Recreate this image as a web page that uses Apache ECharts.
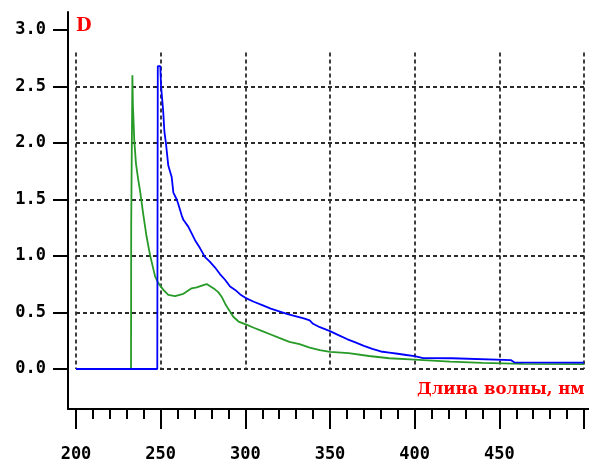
<!DOCTYPE html>
<html>
<head>
<meta charset="utf-8">
<script src="https://cdn.jsdelivr.net/npm/echarts@6/dist/echarts.min.js"></script>
<style>
  html, body { margin: 0; padding: 0; background: #ffffff; }
  #chart { width: 589px; height: 462px; }
</style>
</head>
<body>
<div id="chart"></div>
<script>
// Absorption spectra: optical density D versus wavelength (nm)
const blueNm = [200, 248.0, 248.3, 249.8, 250.2, 251.5, 252.2, 253.1, 254.5, 256.5, 257.5, 259.5, 260.4, 262.4, 263.4, 266.3, 268.3, 270.3, 273.2, 276.2, 279, 282, 285, 288, 291, 294, 297, 300, 305, 310, 315, 320, 325, 330, 335, 338, 340, 344, 350, 355, 360, 365, 370, 375, 380, 385, 390, 395, 400, 405, 422, 423, 457, 459, 500];
const blueD  = [0, 0, 2.68, 2.68, 2.51, 2.28, 2.10, 2.00, 1.80, 1.70, 1.56, 1.50, 1.46, 1.36, 1.32, 1.26, 1.20, 1.14, 1.07, 0.99, 0.95, 0.90, 0.84, 0.79, 0.73, 0.70, 0.66, 0.63, 0.595, 0.565, 0.535, 0.51, 0.485, 0.465, 0.445, 0.43, 0.40, 0.37, 0.335, 0.30, 0.265, 0.235, 0.205, 0.178, 0.155, 0.145, 0.135, 0.124, 0.113, 0.097, 0.095, 0.08, 0.078, 0.058, 0.056];

const greenNm = [200, 232.5, 232.6, 233.1, 233.3, 233.6, 234.4, 235.4, 236.8, 237.8, 239.7, 241.7, 243.7, 246.7, 248.6, 251.6, 254.5, 258.5, 263.4, 268.3, 271.3, 275.2, 277.2, 279, 282, 284, 286, 288, 290, 293, 296, 301, 305, 310, 315, 320, 326, 332, 338, 344, 350, 361, 373, 385, 400, 421, 440, 464, 500];
const greenD  = [0, 0, 1.29, 1.29, 2.60, 2.34, 2.03, 1.82, 1.67, 1.58, 1.37, 1.17, 1.01, 0.82, 0.76, 0.70, 0.655, 0.645, 0.665, 0.714, 0.723, 0.743, 0.752, 0.735, 0.705, 0.68, 0.64, 0.58, 0.53, 0.46, 0.42, 0.39, 0.365, 0.335, 0.305, 0.275, 0.24, 0.22, 0.19, 0.168, 0.152, 0.14, 0.115, 0.095, 0.083, 0.066, 0.055, 0.045, 0.044];

const xMajorTicks = [200, 250, 300, 350, 400, 450, 500];
const xTickLabels = [200, 250, 300, 350, 400, 450];
const xMinorTicks = [];
for (let v = 210; v < 500; v += 10) { if (v % 50 !== 0) xMinorTicks.push(v); }
const yTicks = [0, 0.5, 1.0, 1.5, 2.0, 2.5, 3.0];

const xTitle = 'Длина волны, нм';
const yTitle = 'D';

// Plot frame (pixels)
const W = 589, H = 462;
const plotLeft = 76, plotRight = 584;      // 200 nm .. 500 nm
const zeroY = 369, pxPerUnit = 113;        // D = 0 baseline, pixels per 1.0 D
const axisX = 68, axisY = 409;             // framing axis lines
const axisTop = 12;
const pxPerNm = (plotRight - plotLeft) / 300;
const gridTopD = 2.8;                      // dashed grid stops here

// Extent of the framing axes, in data units
const frameXMin = 200 - (plotLeft - axisX) / pxPerNm;
const frameXMax = 500 + (W - plotRight) / pxPerNm;
const frameYMin = -(axisY - zeroY) / pxPerUnit;
const frameYMax = (zeroY - axisTop) / pxPerUnit;

const pairs = (xs, ys) => xs.map((x, i) => [x, ys[i]]);

const labelFont = { fontFamily: 'DejaVu Sans Mono', fontWeight: 'bold', fontSize: 17, color: '#000' };
const dashed = { color: '#2a2a2a', width: 1.8, type: [4, 3] };

const chart = echarts.init(document.getElementById('chart'), null, { renderer: 'canvas' });
chart.setOption({
  animation: false,
  backgroundColor: '#ffffff',
  title: [
    { text: yTitle, left: 76, top: 17, padding: 0,
      textStyle: { color: '#ff0000', fontFamily: 'DejaVu Serif', fontWeight: 'bold', fontSize: 18 } },
    { text: xTitle, left: 417, top: 381, padding: 0,
      textStyle: { color: '#ff0000', fontFamily: 'DejaVu Serif', fontWeight: 'bold', fontSize: 16.5 } }
  ],
  grid: [
    { left: plotLeft, right: W - plotRight, top: zeroY - gridTopD * pxPerUnit, bottom: H - zeroY,
      containLabel: false, outerBoundsMode: 'none' },
    { left: axisX, right: 0, top: axisTop, bottom: H - axisY,
      containLabel: false, outerBoundsMode: 'none' }
  ],
  xAxis: [
    { gridIndex: 0, type: 'value', min: 200, max: 500, interval: 50,
      axisLine: { show: false }, axisTick: { show: false }, axisLabel: { show: false },
      splitLine: { show: true, lineStyle: dashed } },
    { gridIndex: 1, type: 'value', position: 'bottom', min: frameXMin, max: frameXMax,
      axisLine: { show: true, onZero: false, lineStyle: { color: '#000', width: 2 } },
      axisTick: { show: true, customValues: xMajorTicks, length: 20, lineStyle: { color: '#000', width: 2 } },
      axisLabel: { show: true, customValues: xTickLabels, margin: 37, ...labelFont },
      splitLine: { show: false } },
    { gridIndex: 1, type: 'value', position: 'bottom', min: frameXMin, max: frameXMax,
      axisLine: { show: false, onZero: false },
      axisTick: { show: true, customValues: xMinorTicks, length: 10, lineStyle: { color: '#000', width: 2 } },
      axisLabel: { show: false },
      splitLine: { show: false } }
  ],
  yAxis: [
    { gridIndex: 0, type: 'value', min: 0, max: gridTopD, interval: 0.5,
      axisLine: { show: false }, axisTick: { show: false }, axisLabel: { show: false },
      splitLine: { show: true, showMaxLine: false, lineStyle: dashed } },
    { gridIndex: 1, type: 'value', min: frameYMin, max: frameYMax,
      axisLine: { show: true, onZero: false, lineStyle: { color: '#000', width: 2 } },
      axisTick: { show: true, customValues: yTicks, length: 15, lineStyle: { color: '#000', width: 2 } },
      axisLabel: { show: true, customValues: yTicks, margin: 22, formatter: v => v.toFixed(1), ...labelFont },
      splitLine: { show: false } }
  ],
  series: [
    { type: 'line', name: 'green', xAxisIndex: 0, yAxisIndex: 0, data: pairs(greenNm, greenD),
      showSymbol: false, symbol: 'none', lineStyle: { color: '#279a27', width: 1.8 }, z: 3 },
    { type: 'line', name: 'blue', xAxisIndex: 0, yAxisIndex: 0, data: pairs(blueNm, blueD),
      showSymbol: false, symbol: 'none', lineStyle: { color: '#0000ff', width: 1.8 }, z: 4 }
  ]
});
</script>
</body>
</html>
